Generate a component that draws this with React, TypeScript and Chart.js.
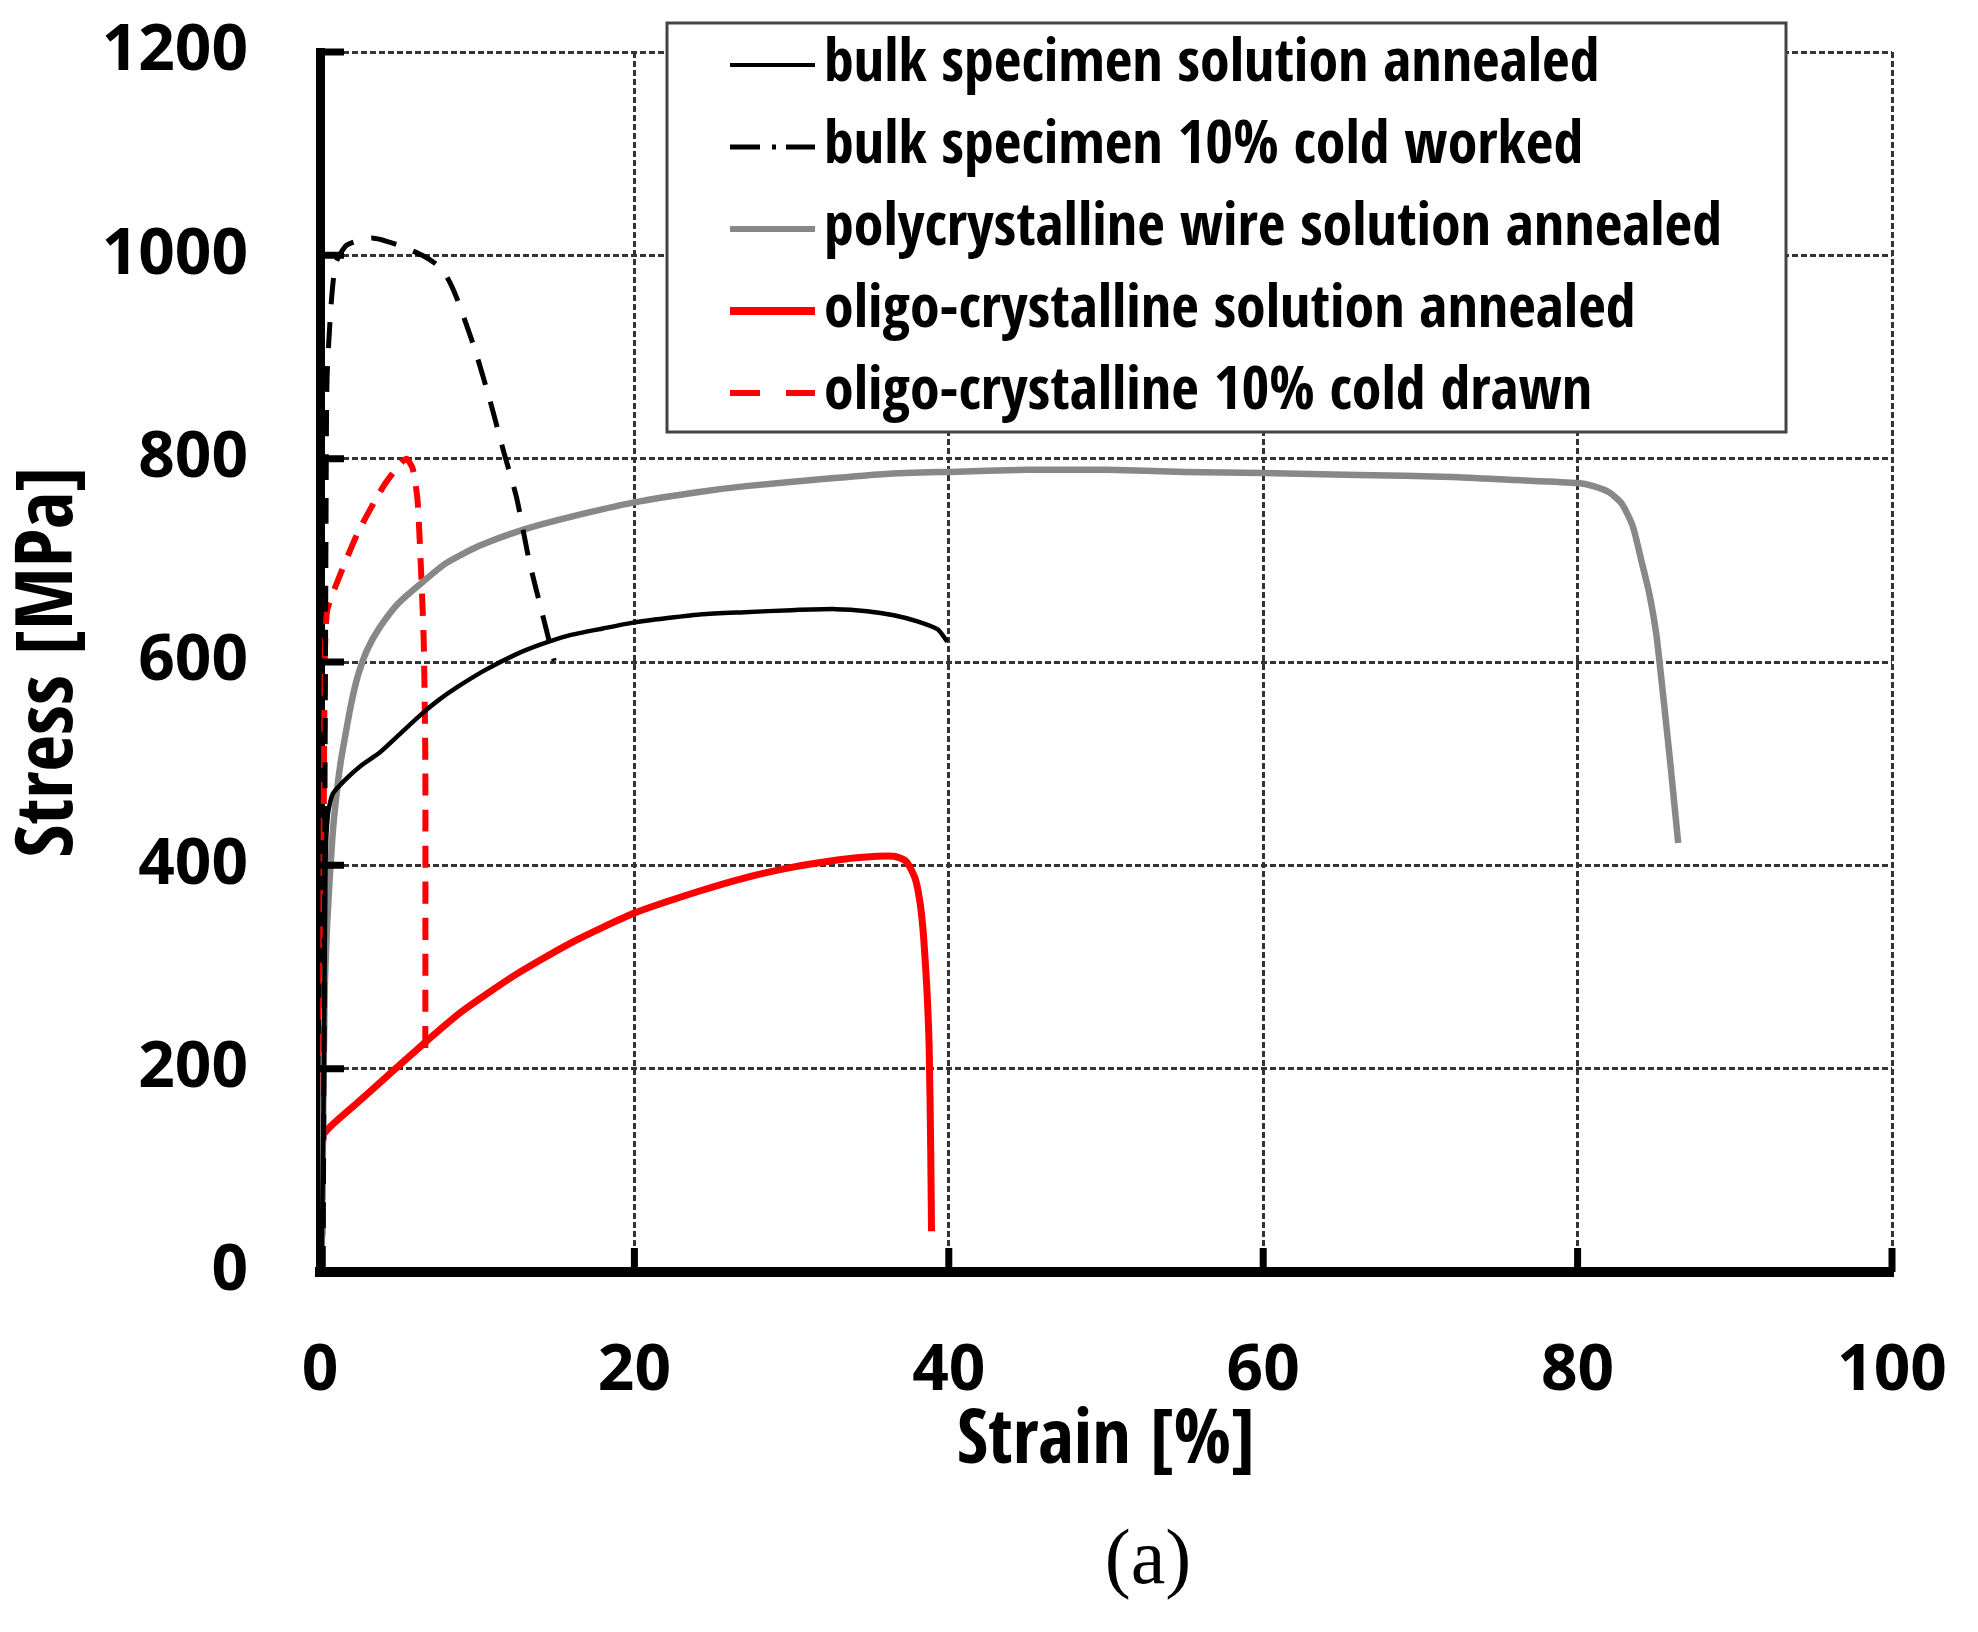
import { useEffect, useRef } from "react"
import { Chart, registerables } from "chart.js"

Chart.register(...registerables)

const FONT = "'Open Sans Condensed', 'Open Sans', 'DejaVu Sans Condensed', sans-serif"
const WEIGHT = "bold condensed"

// curve values: strain [%] and stress [MPa]
const bulkAnnealedStrain = [0.1, 0.25, 0.35, 0.5, 0.8, 1.6, 2.6, 3.8, 5, 6.4, 7.5, 8.7, 10.5, 12.4, 14, 15.8, 18, 20, 22, 24.3, 27, 30, 32.8, 34.8, 36.5, 38, 39.3, 39.9]
const bulkAnnealedStress = [0, 200, 400, 450, 470, 484, 498, 511, 528, 548, 562, 575, 592, 607, 617, 626, 633, 639, 643, 647, 649, 651, 652, 650, 646, 640, 632, 620]

const bulkColdStrain = [0.2, 0.3, 0.4, 0.45, 0.7, 1, 1.7, 3.3, 5, 6.5, 7.5, 8.1, 8.7, 9.8, 10.8, 11.7, 12.5, 13.3, 14.1, 14.9]
const bulkColdStress = [0, 400, 800, 880, 950, 992, 1010, 1017, 1010, 1000, 990, 978, 958, 910, 858, 806, 762, 700, 650, 601]

const wireStrain = [0.1, 0.2, 0.3, 0.45, 0.6, 0.8, 1, 1.3, 1.6, 2, 2.4, 3, 3.8, 5, 6.4, 8, 10.1, 12.9, 16, 20, 24, 27.1, 32, 36, 40, 45, 50, 55, 60, 66, 72, 76, 80, 81, 82, 82.8, 83.5, 84.1, 84.55, 85, 85.45, 85.9, 86.4]
const wireStress = [0, 150, 276, 340, 383, 430, 463, 500, 527, 560, 586, 612, 634, 658, 677, 697, 714, 730, 743, 757, 767, 773, 780, 785, 787, 789, 789, 787, 786, 784, 782, 779, 776, 773, 767, 756, 734, 697, 668, 628, 566, 500, 422]

const oligoAnnealedStrain = [0.05, 0.1, 0.2, 0.6, 1.3, 3, 6.4, 9, 12.4, 16, 20, 24, 27.1, 30, 32.8, 34.5, 36.5, 37.2, 37.5, 37.9, 38.2, 38.4, 38.6, 38.75, 38.85, 38.9]
const oligoAnnealedStress = [0, 80, 134, 142, 152, 175, 222, 256, 292, 324, 353, 374, 388, 398, 405, 408, 409, 405, 399, 385, 360, 329, 280, 222, 120, 40]

const oligoDrawnStrain = [0.15, 0.2, 0.3, 0.45, 1, 2.4, 4, 5, 5.5, 5.9, 6.2, 6.4, 6.6, 6.7, 6.7]
const oligoDrawnStress = [0, 300, 600, 650, 675, 727, 772, 793, 800, 790, 760, 700, 620, 500, 211]

const xTicks = [0, 20, 40, 60, 80, 100]
const yTicks = [0, 200, 400, 600, 800, 1000, 1200]

const points = (xs: number[], ys: number[]) => xs.map((x, i) => ({ x, y: ys[i] }))

// thick tick marks pointing into the plot
const innerTicks = {
  id: "innerTicks",
  afterDatasetsDraw(chart: any) {
    const { ctx, chartArea, scales } = chart
    ctx.save()
    ctx.strokeStyle = "#000"
    ctx.lineWidth = 7
    ctx.setLineDash([])
    ctx.beginPath()
    scales.y.ticks.forEach((t: any) => {
      if (t.value === 0) return
      const p = scales.y.getPixelForValue(t.value)
      ctx.moveTo(chartArea.left, p)
      ctx.lineTo(chartArea.left + 24, p)
    })
    scales.x.ticks.forEach((t: any) => {
      if (t.value === 0) return
      const p = scales.x.getPixelForValue(t.value)
      ctx.moveTo(p, chartArea.bottom)
      ctx.lineTo(p, chartArea.bottom - 24)
    })
    ctx.stroke()
    ctx.restore()
  },
}

// boxed legend with line samples over the top of the plot, plus the panel tag
const legendBox = {
  id: "legendBox",
  afterDraw(chart: any) {
    const { ctx } = chart
    const left = 667
    const top = 23
    const w = 1119
    const h = 409
    ctx.save()
    ctx.fillStyle = "#fff"
    ctx.fillRect(left, top, w, h)
    ctx.lineWidth = 3
    ctx.strokeStyle = "#444"
    ctx.strokeRect(left, top, w, h)
    chart.data.datasets.forEach((ds: any, i: number) => {
      const y = top + 42 + i * 82
      ctx.beginPath()
      ctx.setLineDash(ds.legendDash || [])
      ctx.lineWidth = ds.legendWidth
      ctx.strokeStyle = ds.borderColor
      ctx.moveTo(left + 63, y)
      ctx.lineTo(left + 148, y)
      ctx.stroke()
      ctx.setLineDash([])
      ctx.fillStyle = "#000"
      ctx.font = `${WEIGHT} 60px ${FONT}`
      ctx.textBaseline = "middle"
      ctx.textAlign = "left"
      ctx.fillText(ds.label, left + 157, y)
    })

    ctx.font = "78px 'Liberation Serif', 'Times New Roman', serif"
    ctx.textAlign = "center"
    ctx.textBaseline = "middle"
    ctx.fillText("(a)", 1148, 1563)
    ctx.restore()
  },
}

export default function App() {
  const chartRef = useRef<HTMLCanvasElement>(null)
  const chartInstance = useRef<Chart | null>(null)

  useEffect(() => {
    if (!chartRef.current) return
    if (chartInstance.current) chartInstance.current.destroy()
    const ctx = chartRef.current.getContext("2d")
    if (!ctx) return

    const gridStyle = { color: "#333", lineWidth: 3, drawTicks: false }
    const tickFont = { family: "'Open Sans', sans-serif", size: 64, weight: "bold", lineHeight: 1.2 }

    chartInstance.current = new Chart(ctx, {
      type: "line",
      data: {
        datasets: [
          {
            label: "bulk specimen solution annealed",
            data: points(bulkAnnealedStrain, bulkAnnealedStress),
            borderColor: "#000000",
            borderWidth: 4.5,
            legendWidth: 4,
          },
          {
            label: "bulk specimen 10% cold worked",
            data: points(bulkColdStrain, bulkColdStress),
            borderColor: "#000000",
            borderWidth: 5,
            borderDash: [26, 18],
            legendWidth: 5,
            legendDash: [30, 12, 4, 10],
          },
          {
            label: "polycrystalline wire solution annealed",
            data: points(wireStrain, wireStress),
            borderColor: "#888888",
            borderWidth: 6.5,
            legendWidth: 6,
          },
          {
            label: "oligo-crystalline solution annealed",
            data: points(oligoAnnealedStrain, oligoAnnealedStress),
            borderColor: "#ff0000",
            borderWidth: 7,
            legendWidth: 8,
          },
          {
            label: "oligo-crystalline 10% cold drawn",
            data: points(oligoDrawnStrain, oligoDrawnStress),
            borderColor: "#ff0000",
            borderWidth: 6,
            borderDash: [22, 14],
            legendWidth: 6,
            legendDash: [30, 26],
          },
        ] as any,
      },
      options: {
        responsive: false,
        animation: false,
        devicePixelRatio: 1,
        layout: { padding: { top: 52, right: 86, left: 0, bottom: 0 } },
        elements: {
          point: { radius: 0 },
          line: { tension: 0.2, fill: false },
        },
        plugins: {
          legend: { display: false },
          tooltip: { enabled: false },
        },
        scales: {
          x: {
            type: "linear",
            min: 0,
            max: 100,
            afterBuildTicks: (scale: any) => {
              scale.ticks = xTicks.map((v) => ({ value: v }))
            },
            afterFit: (scale: any) => {
              scale.height = 360
              scale.paddingLeft = 0
              scale.paddingRight = 0
            },
            grid: gridStyle,
            border: { display: true, color: "#000", width: 10, dash: [6, 3] },
            ticks: {
              color: "#000",
              padding: 61,
              maxRotation: 0,
              font: tickFont,
              callback: (v: any) => String(v),
            },
            title: {
              display: true,
              text: "Strain [%]",
              color: "#000",
              padding: { top: 0, bottom: 143 },
              font: { family: FONT, size: 76, weight: WEIGHT, lineHeight: 1.2 },
            },
          },
          y: {
            type: "linear",
            min: 0,
            max: 1200,
            afterBuildTicks: (scale: any) => {
              scale.ticks = yTicks.map((v) => ({ value: v }))
            },
            afterFit: (scale: any) => {
              scale.width = 320
              scale.paddingTop = 0
              scale.paddingBottom = 0
            },
            grid: gridStyle,
            border: { display: true, color: "#000", width: 9, dash: [6, 3] },
            ticks: {
              color: "#000",
              padding: 72,
              font: tickFont,
              callback: (v: any) => String(v),
            },
            title: {
              display: true,
              text: "Stress [MPa]",
              color: "#000",
              padding: { top: 3, bottom: 0 },
              font: { family: FONT, size: 80, weight: WEIGHT, lineHeight: 1.2 },
            },
          },
        },
      },
      plugins: [innerTicks, legendBox],
    })

    return () => {
      if (chartInstance.current) {
        chartInstance.current.destroy()
        chartInstance.current = null
      }
    }
  }, [])

  return (
    <div style={{ position: "fixed", left: 0, top: 0, width: 1978, height: 1632, background: "#fff" }}>
      <canvas ref={chartRef} width={1978} height={1632} style={{ width: 1978, height: 1632 }} />
    </div>
  )
}
